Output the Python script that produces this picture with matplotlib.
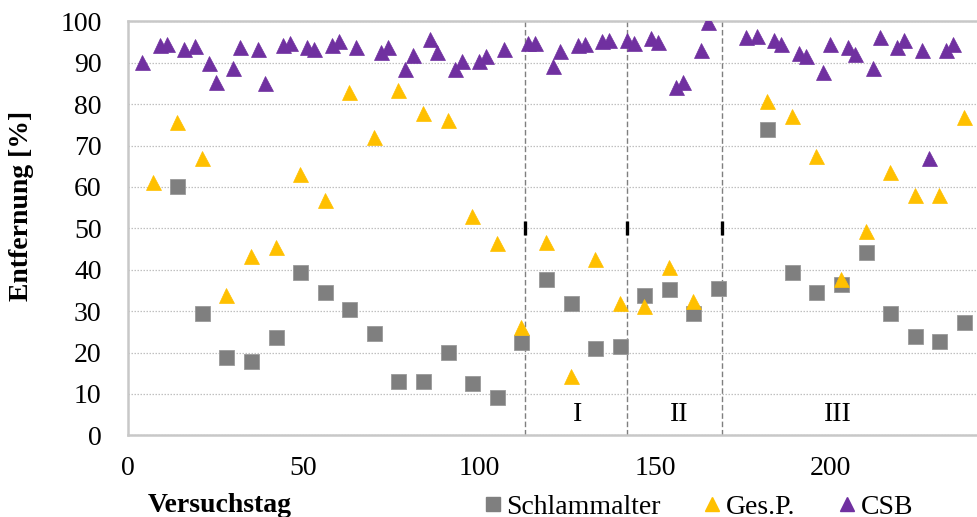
import matplotlib
matplotlib.use("Agg")
import matplotlib.pyplot as plt
from matplotlib.lines import Line2D

plt.rcParams['font.family'] = ['Liberation Serif', 'DejaVu Serif']

# Sludge age (Schlammalter) removal, weekly samples
sa_day = [14, 21, 28, 35, 42, 49, 56, 63, 70, 77, 84, 91, 98, 105, 112, 119,
          126, 133, 140, 147, 154, 161, 168, 182, 189, 196, 203, 210, 217, 224,
          231, 238]
sa_val = [60.3, 29.5, 18.8, 17.9, 23.8, 39.5, 34.6, 30.6, 24.8, 13.0, 13.1,
          20.2, 12.6, 9.3, 22.6, 37.8, 31.9, 21.0, 21.6, 33.8, 35.3, 29.5, 35.7,
          74.1, 39.4, 34.6, 36.5, 44.3, 29.6, 24.0, 22.8, 27.3]

# Total phosphorus (Ges.P.) removal
gp_day = [7, 14, 21, 28, 35, 42, 49, 56, 63, 70, 77, 84, 91, 98, 105, 112,
          119, 126, 133, 140, 147, 154, 161, 182, 189, 196, 203, 210, 217, 224,
          231, 238]
gp_val = [61.2, 75.7, 66.9, 33.9, 43.4, 45.6, 63.1, 56.8, 82.9, 72.1, 83.4,
          77.8, 76.2, 53.0, 46.5, 26.2, 46.6, 14.4, 42.6, 31.9, 31.3, 40.6, 32.5,
          80.8, 77.2, 67.5, 37.8, 49.4, 63.7, 58.0, 58.0, 76.8]

# COD (CSB) removal
csb_day = [4, 9, 11, 16, 19, 23, 25, 30, 32, 37, 39, 44, 46, 51, 53, 58, 60,
           65, 72, 74, 79, 81, 86, 88, 93, 95, 100, 102, 107, 114, 116, 121,
           123, 128, 130, 135, 137, 142, 144, 149, 151, 156, 158, 163, 165, 176,
           179, 184, 186, 191, 193, 198, 200, 205, 207, 212, 214, 219, 221, 226,
           228, 233, 235]
csb_val = [90.2, 94.3, 94.5, 93.4, 94.1, 90.0, 85.4, 88.7, 93.9, 93.4, 85.2,
           94.3, 94.8, 93.9, 93.2, 94.3, 95.2, 93.9, 92.7, 93.9, 88.4, 91.8,
           95.8, 92.5, 88.4, 90.5, 90.5, 91.5, 93.2, 94.8, 94.7, 89.2, 92.9,
           94.3, 94.5, 95.3, 95.6, 95.5, 94.7, 96.0, 95.0, 84.2, 85.4, 93.1,
           99.9, 96.3, 96.5, 95.5, 94.5, 92.3, 91.6, 87.8, 94.5, 93.9, 92.1,
           88.6, 96.3, 93.7, 95.5, 93.1, 67.1, 93.1, 94.5]

# Phase boundaries and phase labels
phase_bounds = [113, 142, 169]
phase_names = ['I', 'II', 'III']
phase_label_x = [128, 157, 202]

GRAY = '#7f7f7f'
YELLOW = '#ffc000'
PURPLE = '#7030a0'
FS = 20

fig = plt.figure(figsize=(9.78, 5.17), dpi=100)
W, H = 978, 517
ax = fig.add_axes([128 / W, (H - 435.3) / H, (W - 128) / W, (435.3 - 21.3) / H])

ax.set_xlim(0, 242)
ax.set_ylim(0, 100)

ax.set_yticks(range(0, 101, 10))
ax.set_xticks(range(0, 201, 50))
ax.tick_params(axis='y', length=0, labelsize=FS, pad=19)
ax.tick_params(axis='x', length=0, labelsize=FS, pad=15)

# horizontal gridlines
ax.yaxis.grid(True, color='#c0c0c0', linestyle=(0, (1.2, 1.2)), linewidth=0.9)
ax.set_axisbelow(True)

for side in ['left', 'bottom', 'top']:
    ax.spines[side].set_color('#c8c8c8')
    ax.spines[side].set_linewidth(1.8)
ax.spines['right'].set_visible(False)

# phase boundaries
for xb in phase_bounds:
    ax.axvline(xb, color='#7f7f7f', linestyle=(0, (4, 2)), linewidth=1.0, zorder=1)
ax.plot(phase_bounds, [50] * len(phase_bounds), linestyle='none', marker='|',
        color='black', markersize=9.5, markeredgewidth=2.4, zorder=2)

for xl, name in zip(phase_label_x, phase_names):
    ax.text(xl, 5, name, ha='center', va='center', fontsize=FS)

ms = 10.8
ax.plot(sa_day, sa_val, linestyle='none', marker='s', markersize=ms,
        color=GRAY, markeredgecolor='#9a9a9a', markeredgewidth=0.6, zorder=3)
ax.plot(gp_day, gp_val, linestyle='none', marker='^', markersize=ms,
        color=YELLOW, markeredgecolor=YELLOW, markeredgewidth=0.5, zorder=4)
ax.plot(csb_day, csb_val, linestyle='none', marker='^', markersize=ms,
        color=PURPLE, markeredgecolor=PURPLE, markeredgewidth=0.5, zorder=5)

ax.set_ylabel('Entfernung [%]', fontsize=FS, fontweight='bold')
ax.yaxis.set_label_coords(-0.111, 0.554)
fig.text(220 / W, 1 - 505 / H, 'Versuchstag', fontsize=FS, fontweight='bold',
         ha='center', va='center')

handles = [
    Line2D([], [], linestyle='none', marker='s', markersize=10, color=GRAY),
    Line2D([], [], linestyle='none', marker='^', markersize=10.5, color=YELLOW),
    Line2D([], [], linestyle='none', marker='^', markersize=10.5, color=PURPLE),
]
fig.legend(handles, ['Schlammalter', 'Ges.P.', 'CSB'], loc='center',
           bbox_to_anchor=(699 / W, 1 - 507 / H), ncol=3, frameon=False,
           fontsize=FS, handlelength=0.6, handletextpad=0.2,
           columnspacing=1.55, borderpad=0)

fig.savefig('out.png', dpi=100)
